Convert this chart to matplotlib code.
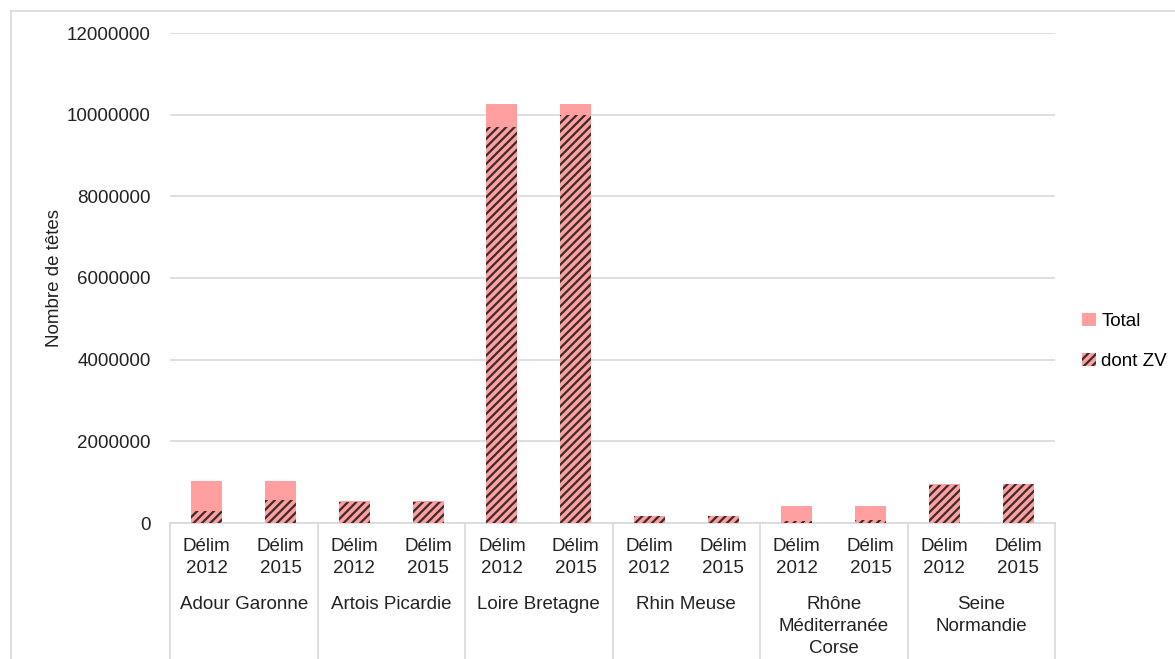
import matplotlib
matplotlib.use("Agg")
import matplotlib.pyplot as plt
import numpy as np
from matplotlib.lines import Line2D

plt.rcParams["font.family"] = ["Liberation Sans", "DejaVu Sans"]
plt.rcParams["hatch.linewidth"] = 1.6

# Data
bassins = ["Adour Garonne", "Artois Picardie", "Loire Bretagne", "Rhin Meuse",
           "Rhône\nMéditerranée\nCorse", "Seine\nNormandie"]
delims = ["Délim\n2012", "Délim\n2015"]
total = [1030000, 1030000, 530000, 530000, 10260000, 10260000,
         170000, 170000, 420000, 420000, 955000, 955000]
dont_zv = [300000, 560000, 520000, 520000, 9710000, 9990000,
           160000, 160000, 40000, 80000, 930000, 950000]
yticks = [0, 2000000, 4000000, 6000000, 8000000, 10000000, 12000000]

pink = "#ff9f9f"
hatch_col = "#3b2b2b"
fs = 13.5

fig = plt.figure(figsize=(11.75, 6.59), dpi=100)
ax = fig.add_axes([170 / 1175, 1 - 523 / 659, 885 / 1175, 490 / 659])

x = np.arange(len(total))
ax.bar(x, total, width=0.42, color=pink, label="Total", zorder=2)
ax.bar(x, dont_zv, width=0.42, facecolor=pink, edgecolor=hatch_col,
       linewidth=0, hatch="////", label="dont ZV", zorder=3)

ax.set_xlim(-0.5, len(total) - 0.5)
ax.set_ylim(0, 12000000)
ax.set_yticks(yticks)
ax.set_yticklabels([str(v) for v in yticks], fontsize=fs, color="#222222")
ax.yaxis.grid(True, color="#d9d9d9", linewidth=1.2, zorder=0)
ax.set_axisbelow(True)
ax.tick_params(axis="y", length=0, pad=14)
ax.tick_params(axis="x", length=0, pad=11)
for s in ["top", "right", "left"]:
    ax.spines[s].set_visible(False)
ax.spines["bottom"].set_color("#d9d9d9")
ax.spines["bottom"].set_linewidth(1.2)

ax.set_xticks(x)
ax.set_xticklabels(delims * len(bassins), fontsize=fs, color="#222222",
                   linespacing=1.35)
ax.set_ylabel("Nombre de têtes", fontsize=fs, color="#222222", labelpad=3)

# group labels and separators under the axis
trans = ax.get_xaxis_transform()
for i, name in enumerate(bassins):
    ax.text(2 * i + 0.5, -0.148, name, transform=trans, ha="center", va="top",
            fontsize=fs, color="#222222", linespacing=1.4)
for k in range(len(bassins) + 1):
    ax.add_line(Line2D([2 * k - 0.5, 2 * k - 0.5], [0, -0.28], transform=trans,
                       color="#d9d9d9", linewidth=1.2, clip_on=False))

ax.legend(loc="center left", bbox_to_anchor=(1.012, 0.37), frameon=False,
          fontsize=fs, handlelength=0.7, handleheight=0.7,
          handletextpad=0.3, labelspacing=1.2)

# faint chart border like the source export
fig.add_artist(Line2D([11 / 1175, 11 / 1175], [0, 1 - 11 / 659],
                      color="#d9d9d9", linewidth=1.2))
fig.add_artist(Line2D([11 / 1175, 1], [1 - 11 / 659, 1 - 11 / 659],
                      color="#d9d9d9", linewidth=1.2))

fig.savefig("out.png", dpi=100)
